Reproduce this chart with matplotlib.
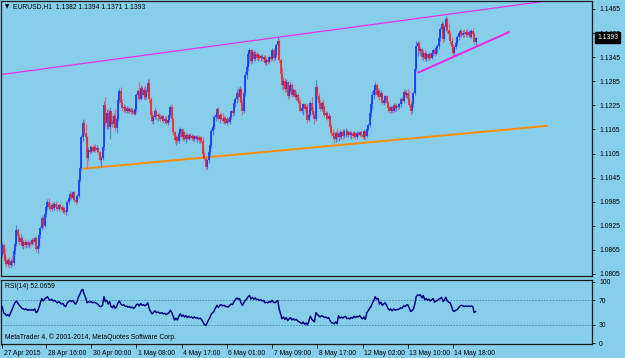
import numpy as np
import matplotlib
matplotlib.use("Agg")
import matplotlib.pyplot as plt
import matplotlib.transforms as mtransforms

# ── data: EURUSD H1 bars, prices in points (1.0850 -> 10850) ─────────────────
open_pts = [
    10850, 10878, 10855, 10838, 10830, 10840, 10828, 10838, 10832, 10862,
    10880, 10915, 10900, 10885, 10895, 10875, 10885, 10878, 10884, 10876,
    10882, 10880, 10890, 10885, 10895, 10866, 10875, 10902, 10920, 10945,
    10925, 10955, 10972, 10985, 10972, 10968, 10978, 10970, 10980, 10972,
    10966, 10976, 10972, 10964, 10970, 10960, 10962, 10985, 10995, 11005,
    10995, 11008, 10990, 10985, 11000, 11040, 11070, 11145, 11180, 11155,
    11145, 11095, 11115, 11110, 11120, 11112, 11122, 11115, 11118, 11108,
    11090, 11095, 11120, 11225, 11180, 11205, 11172, 11210, 11185, 11178,
    11198, 11168, 11192, 11238, 11260, 11232, 11218, 11222, 11212, 11218,
    11210, 11216, 11208, 11212, 11204, 11215, 11250, 11260, 11242, 11268,
    11250, 11262, 11245, 11258, 11280, 11240, 11200, 11186, 11195, 11212,
    11198, 11200, 11196, 11190, 11198, 11186, 11192, 11182, 11188, 11200, 11220,
    11190, 11158, 11138, 11145, 11135, 11155, 11165, 11145, 11158, 11140,
    11150, 11142, 11150, 11144, 11148, 11140, 11148, 11142, 11146, 11138,
    11144, 11135, 11105, 11092, 11072, 11088, 11108, 11125, 11160, 11170,
    11195, 11202, 11215, 11190, 11200, 11192, 11185, 11194, 11182, 11190,
    11184, 11196, 11210, 11205, 11230, 11240, 11255, 11245, 11265, 11232,
    11212, 11255, 11300, 11320, 11352, 11362, 11335, 11358, 11340, 11352,
    11342, 11350, 11342, 11348, 11340, 11345, 11330, 11338, 11332, 11345,
    11340, 11362, 11342, 11350, 11375, 11385, 11338, 11302, 11275, 11285,
    11265, 11284, 11248, 11260, 11275, 11252, 11262, 11245, 11250, 11236,
    11230, 11212, 11218, 11228, 11216, 11220, 11188, 11200, 11230, 11212,
    11202, 11190, 11270, 11248, 11232, 11215, 11230, 11220, 11200, 11205,
    11192, 11198, 11170, 11155, 11148, 11140, 11155, 11145, 11156, 11146,
    11158, 11148, 11160, 11162, 11152, 11158, 11150, 11156, 11148, 11155,
    11146, 11156, 11152, 11158, 11150, 11146, 11160, 11148, 11165, 11175,
    11205, 11228, 11252, 11262, 11275, 11252, 11260, 11245, 11255, 11232,
    11238, 11248, 11232, 11218, 11210, 11220, 11212, 11225, 11218, 11224, 11220,
    11228, 11240, 11236, 11258, 11252, 11256, 11242, 11226, 11210, 11228,
    11255, 11315, 11372, 11380, 11360, 11365, 11345, 11355, 11340, 11352,
    11342, 11352, 11344, 11355, 11362, 11352, 11368, 11372, 11392, 11415,
    11428, 11390, 11420, 11440, 11412, 11402, 11385, 11370, 11355, 11370,
    11380, 11395, 11404, 11410, 11400, 11406, 11402, 11408, 11400, 11408,
    11396, 11410, 11402, 11382,
]
high_pts = [
    10885, 10882, 10870, 10848, 10845, 10848, 10842, 10850, 10868, 10885,
    10927, 10920, 10908, 10905, 10900, 10890, 10892, 10888, 10890, 10886,
    10890, 10895, 10898, 10900, 10898, 10880, 10908, 10925, 10952, 10950,
    10960, 10978, 10992, 10993, 10982, 10982, 10985, 10984, 10986, 10980,
    10980, 10982, 10978, 10975, 10972, 10968, 10990, 11000, 11012, 11010,
    11012, 11012, 10998, 11005, 11045, 11075, 11150, 11190, 11188, 11178,
    11148, 11120, 11125, 11124, 11126, 11125, 11128, 11126, 11122, 11112,
    11100, 11125, 11235, 11245, 11215, 11215, 11220, 11212, 11200, 11205,
    11215, 11200, 11245, 11268, 11270, 11240, 11228, 11226, 11224, 11222,
    11222, 11220, 11218, 11216, 11220, 11255, 11265, 11282, 11275, 11272,
    11270, 11276, 11265, 11290, 11290, 11245, 11210, 11200, 11218, 11215,
    11205, 11206, 11204, 11202, 11200, 11198, 11198, 11192, 11205, 11225, 11228,
    11195, 11162, 11150, 11150, 11160, 11170, 11168, 11165, 11162, 11155,
    11156, 11155, 11155, 11154, 11152, 11152, 11152, 11150, 11150, 11148,
    11148, 11145, 11112, 11096, 11092, 11112, 11130, 11168, 11178, 11200,
    11208, 11220, 11222, 11205, 11206, 11205, 11198, 11198, 11195, 11195,
    11200, 11214, 11215, 11235, 11245, 11262, 11270, 11272, 11268, 11240,
    11260, 11310, 11330, 11360, 11368, 11366, 11365, 11364, 11360, 11358,
    11355, 11354, 11352, 11352, 11350, 11350, 11342, 11344, 11348, 11350,
    11368, 11368, 11355, 11380, 11395, 11390, 11342, 11318, 11295, 11292,
    11290, 11285, 11265, 11282, 11280, 11268, 11266, 11258, 11255, 11245,
    11238, 11222, 11232, 11232, 11225, 11230, 11205, 11236, 11245, 11220,
    11212, 11288, 11275, 11256, 11238, 11235, 11238, 11225, 11210, 11210,
    11205, 11200, 11178, 11166, 11160, 11160, 11168, 11160, 11166, 11162,
    11166, 11165, 11168, 11166, 11162, 11164, 11160, 11162, 11160, 11158,
    11160, 11160, 11162, 11160, 11158, 11165, 11164, 11170, 11180, 11210,
    11235, 11260, 11270, 11282, 11280, 11268, 11265, 11262, 11258, 11242,
    11252, 11250, 11236, 11226, 11224, 11224, 11230, 11230, 11228, 11230, 11232,
    11245, 11246, 11262, 11265, 11262, 11266, 11260, 11235, 11232, 11260,
    11320, 11385, 11385, 11386, 11370, 11368, 11362, 11362, 11358, 11356,
    11358, 11356, 11360, 11366, 11368, 11372, 11378, 11398, 11420, 11435,
    11432, 11425, 11448, 11445, 11430, 11410, 11395, 11378, 11375, 11385,
    11400, 11408, 11416, 11415, 11412, 11414, 11412, 11414, 11412, 11412,
    11416, 11418, 11408, 11394,
]
low_pts = [
    10845, 10848, 10830, 10822, 10825, 10820, 10822, 10826, 10828, 10855,
    10875, 10895, 10878, 10880, 10870, 10866, 10872, 10870, 10873, 10870,
    10875, 10876, 10880, 10878, 10860, 10858, 10870, 10895, 10915, 10920,
    10922, 10948, 10965, 10968, 10962, 10962, 10966, 10965, 10968, 10963,
    10962, 10968, 10960, 10958, 10955, 10952, 10960, 10980, 10990, 10992,
    10990, 10985, 10980, 10982, 10995, 11035, 11065, 11135, 11150, 11140,
    11070, 11090, 11105, 11106, 11108, 11108, 11110, 11108, 11105, 11085,
    11072, 11090, 11115, 11170, 11165, 11165, 11140, 11175, 11170, 11172,
    11160, 11155, 11185, 11230, 11225, 11212, 11208, 11206, 11205, 11206,
    11205, 11204, 11203, 11200, 11200, 11208, 11240, 11235, 11238, 11245,
    11240, 11238, 11240, 11250, 11232, 11195, 11180, 11178, 11190, 11192,
    11185, 11190, 11186, 11185, 11182, 11180, 11178, 11176, 11184, 11195, 11185,
    11150, 11130, 11126, 11130, 11130, 11145, 11140, 11138, 11135, 11132,
    11138, 11138, 11140, 11138, 11136, 11136, 11138, 11134, 11132, 11132,
    11130, 11095, 11088, 11064, 11066, 11082, 11100, 11118, 11150, 11165,
    11185, 11196, 11185, 11182, 11188, 11180, 11178, 11178, 11176, 11180,
    11178, 11190, 11198, 11200, 11222, 11232, 11235, 11240, 11225, 11202,
    11205, 11248, 11290, 11310, 11330, 11328, 11330, 11335, 11336, 11338,
    11336, 11338, 11336, 11336, 11334, 11325, 11326, 11328, 11330, 11336,
    11338, 11335, 11338, 11345, 11368, 11330, 11295, 11265, 11262, 11258,
    11258, 11240, 11244, 11255, 11245, 11248, 11240, 11238, 11232, 11226,
    11208, 11205, 11202, 11212, 11205, 11182, 11185, 11198, 11205, 11196,
    11178, 11185, 11240, 11226, 11210, 11212, 11215, 11195, 11192, 11188,
    11186, 11165, 11148, 11140, 11134, 11134, 11138, 11136, 11140, 11140,
    11142, 11144, 11146, 11148, 11146, 11145, 11142, 11144, 11145, 11140,
    11142, 11148, 11148, 11146, 11142, 11140, 11140, 11145, 11160, 11170,
    11195, 11215, 11240, 11250, 11245, 11245, 11238, 11240, 11228, 11226,
    11232, 11228, 11212, 11206, 11206, 11206, 11208, 11212, 11212, 11214, 11216,
    11222, 11230, 11232, 11245, 11246, 11236, 11220, 11202, 11205, 11222,
    11250, 11310, 11348, 11355, 11350, 11340, 11338, 11335, 11336, 11338,
    11338, 11340, 11340, 11348, 11348, 11350, 11356, 11365, 11385, 11405,
    11380, 11385, 11410, 11405, 11395, 11378, 11362, 11348, 11350, 11365,
    11375, 11388, 11398, 11396, 11394, 11396, 11398, 11396, 11395, 11392,
    11392, 11398, 11378, 11371,
]
close_pts = [
    10878, 10855, 10838, 10830, 10840, 10828, 10838, 10832, 10862, 10880,
    10915, 10900, 10885, 10895, 10875, 10885, 10878, 10884, 10876, 10882,
    10880, 10890, 10885, 10895, 10866, 10875, 10902, 10920, 10945, 10925,
    10955, 10972, 10985, 10972, 10968, 10978, 10970, 10980, 10972, 10966,
    10976, 10972, 10964, 10970, 10960, 10962, 10985, 10995, 11005, 10995,
    11008, 10990, 10985, 11000, 11040, 11070, 11145, 11180, 11155, 11145,
    11095, 11115, 11110, 11120, 11112, 11122, 11115, 11118, 11108, 11090,
    11095, 11120, 11225, 11180, 11205, 11172, 11210, 11185, 11178, 11198,
    11168, 11192, 11238, 11260, 11232, 11218, 11222, 11212, 11218, 11210,
    11216, 11208, 11212, 11204, 11215, 11250, 11260, 11242, 11268, 11250,
    11262, 11245, 11258, 11280, 11240, 11200, 11186, 11195, 11212, 11198,
    11200, 11196, 11190, 11198, 11186, 11192, 11182, 11188, 11200, 11220, 11190,
    11158, 11138, 11145, 11135, 11155, 11165, 11145, 11158, 11140, 11150,
    11142, 11150, 11144, 11148, 11140, 11148, 11142, 11146, 11138, 11144,
    11135, 11105, 11092, 11072, 11088, 11108, 11125, 11160, 11170, 11195,
    11202, 11215, 11190, 11200, 11192, 11185, 11194, 11182, 11190, 11184,
    11196, 11210, 11205, 11230, 11240, 11255, 11245, 11265, 11232, 11212,
    11255, 11300, 11320, 11352, 11362, 11335, 11358, 11340, 11352, 11342,
    11350, 11342, 11348, 11340, 11345, 11330, 11338, 11332, 11345, 11340,
    11362, 11342, 11350, 11375, 11385, 11338, 11302, 11275, 11285, 11265,
    11284, 11248, 11260, 11275, 11252, 11262, 11245, 11250, 11236, 11230,
    11212, 11218, 11228, 11216, 11220, 11188, 11200, 11230, 11212, 11202,
    11190, 11270, 11248, 11232, 11215, 11230, 11220, 11200, 11205, 11192,
    11198, 11170, 11155, 11148, 11140, 11155, 11145, 11156, 11146, 11158,
    11148, 11160, 11162, 11152, 11158, 11150, 11156, 11148, 11155, 11146,
    11156, 11152, 11158, 11150, 11146, 11160, 11148, 11165, 11175, 11205,
    11228, 11252, 11262, 11275, 11252, 11260, 11245, 11255, 11232, 11238,
    11248, 11232, 11218, 11210, 11220, 11212, 11225, 11218, 11224, 11220, 11228,
    11240, 11236, 11258, 11252, 11256, 11242, 11226, 11210, 11228, 11255,
    11315, 11372, 11380, 11360, 11365, 11345, 11355, 11340, 11352, 11342,
    11352, 11344, 11355, 11362, 11352, 11368, 11372, 11392, 11415, 11428,
    11390, 11420, 11440, 11412, 11402, 11385, 11370, 11355, 11370, 11380,
    11395, 11404, 11410, 11400, 11406, 11402, 11408, 11400, 11408, 11396,
    11410, 11402, 11382, 11393,
]
# RSI(14)
rsi_vals = [
    60, 50, 48, 45, 47, 44, 50, 55, 61, 66,
    69, 66, 62, 60, 57, 56, 55, 56, 54, 55,
    54, 55, 54, 56, 50, 52, 58, 66, 73, 69,
    72, 74, 76, 72, 70, 72, 69, 70, 68, 66,
    68, 66, 64, 65, 61, 60, 66, 68, 70, 68,
    70, 66, 64, 68, 76, 80, 86, 88, 80, 75,
    66, 68, 67, 68, 66, 67, 66, 65, 63, 60,
    60, 62, 76, 68, 70, 64, 68, 60, 58, 62,
    57, 60, 66, 69, 64, 62, 63, 60, 61, 59,
    60, 58, 59, 57, 59, 63, 64, 61, 65, 62,
    63, 61, 63, 66, 57, 52, 48, 50, 53, 50,
    51, 50, 49, 50, 48, 49, 47, 48, 50, 54, 50,
    44, 38, 41, 38, 44, 48, 44, 46, 43, 45,
    42, 44, 42, 43, 41, 43, 41, 42, 40, 41,
    39, 35, 31, 29, 33, 38, 42, 48, 50, 53,
    58, 62, 58, 62, 63, 61, 62, 60, 60, 59,
    62, 64, 63, 68, 71, 74, 72, 73, 66, 62,
    66, 70, 72, 76, 78, 72, 75, 72, 74, 71,
    72, 70, 71, 69, 70, 66, 67, 66, 68, 67,
    70, 67, 66, 68, 70, 56, 48, 40, 43, 39,
    42, 37, 40, 42, 38, 40, 38, 39, 37, 35,
    34, 32, 35, 31, 33, 30, 36, 44, 40, 37,
    35, 50, 47, 45, 43, 45, 44, 42, 43, 41,
    42, 37, 34, 33, 32, 35, 32, 45, 41, 43,
    41, 43, 44, 40, 41, 40, 42, 41, 44, 42,
    44, 43, 45, 42, 40, 43, 39, 50, 53, 57,
    60, 66, 70, 76, 72, 73, 64, 67, 62, 64,
    66, 62, 57, 54, 56, 53, 56, 54, 55, 55, 56,
    58, 57, 61, 60, 62, 63, 58, 52, 53, 56,
    64, 76, 79, 78, 79, 74, 78, 71, 73, 70,
    72, 69, 71, 73, 67, 69, 70, 72, 73, 75,
    68, 71, 75, 69, 67, 66, 60, 53, 52, 54,
    55, 58, 61, 62, 61, 60, 61, 60, 61, 60,
    61, 60, 50, 52,
]

date_idx = [0, 31, 63, 95, 127, 159, 191, 223, 255, 287, 319]
date_labels = ["27 Apr 2015", "28 Apr 16:00", "30 Apr 00:00", "1 May 08:00",
               "4 May 17:00", "6 May 01:00", "7 May 09:00", "8 May 17:00",
               "12 May 02:00", "13 May 10:00", "14 May 18:00"]
price_ticks = [1.0805, 1.0865, 1.0925, 1.0985, 1.1045, 1.1105,
               1.1165, 1.1225, 1.1285, 1.1345, 1.1405, 1.1465]
rsi_ticks = [0, 30, 70, 100]
rsi_levels = [30, 70]
last_price = 1.1393

# trendlines drawn on the chart: (bar, price) anchors
channel_top = [(0, 1.1302), (196, 1.1395)]     # ray, magenta
support_low = [(57, 1.1067), (386, 1.1174)]    # segment, orange
support_13may = [(294, 1.1306), (359, 1.1408)] # segment, magenta

# ── style ────────────────────────────────────────────────────────────────
BG = "#87CEEB"
UP, UP_WICK = "#1030ff", "#4f7fe6"
DN, DN_WICK = "#f02020", "#d0707e"
FRAME = "#1c1c1c"
FONT = ["Liberation Sans", "DejaVu Sans"]
FS = 4.9
plt.rcParams["font.family"] = FONT

o = np.array(open_pts) / 1e4
h = np.array(high_pts) / 1e4
l = np.array(low_pts) / 1e4
c = np.array(close_pts) / 1e4
idx = np.arange(len(o))
up = c >= o

W, H = 625, 358
fig = plt.figure(figsize=(W / 100, H / 100), dpi=100, facecolor=BG)
ax = fig.add_axes([1 / W, 82 / H, 591 / W, 275 / H], facecolor=BG)
rx = fig.add_axes([1 / W, 14 / H, 591 / W, 64 / H], facecolor=BG)

XL = (-0.85, 417.4)

# candles
ax.vlines(idx[up], l[up], h[up], color=UP_WICK, lw=0.85, zorder=3)
ax.vlines(idx[~up], l[~up], h[~up], color=DN_WICK, lw=0.85, zorder=3)
ax.vlines(idx[up], o[up], c[up], color=UP, lw=1.15, zorder=4)
ax.vlines(idx[~up], c[~up], o[~up], color=DN, lw=1.15, zorder=4)

# trendlines
ax.axline(channel_top[0], channel_top[1], color="#e830f0", lw=0.9, zorder=2)
ax.plot(*zip(*support_low), color="#ff8c00", lw=1.4, zorder=2,
        solid_capstyle="butt")
ax.plot(*zip(*support_13may), color="#f020e8", lw=1.4, zorder=5,
        solid_capstyle="butt")

ax.set_xlim(*XL)
ax.set_ylim(1.07999, 1.14849)
ax.set_xticks([])
ax.yaxis.tick_right()
ax.set_yticks(price_ticks)
ax.set_yticklabels([f"{p:.4f}" for p in price_ticks])
ax.tick_params(axis="y", length=2.5, width=0.6, pad=2.5, labelsize=FS,
               colors="black")
for s in ax.spines.values():
    s.set_color(FRAME)
    s.set_linewidth(0.9)

# current price tag (sits over the 1.1405 label, as in the terminal)
tr = mtransforms.blended_transform_factory(ax.transAxes, ax.transData)
ax.text(1.009, last_price, f"{last_price:.4f}", transform=tr, fontsize=FS,
        color="white", va="center", ha="left", zorder=10, clip_on=False,
        bbox=dict(boxstyle="square,pad=0.3", fc="black", ec="black"))

ax.text(4 / 591, 1 - 3 / 275, "\u25bc", transform=ax.transAxes,
        fontsize=4.0, va="top", ha="left", family=["DejaVu Sans"])
ax.text(12 / 591, 1 - 2.5 / 275, "EURUSD,H1  1.1382 1.1394 1.1371 1.1393",
        transform=ax.transAxes, fontsize=FS, va="top", ha="left")

# RSI window
rx.plot(idx, rsi_vals, color="#000080", lw=1.05, zorder=3)
for lv in rsi_levels:
    rx.axhline(lv, color="#3f8ea8", lw=0.7, ls=(0, (1.5, 1.5)), zorder=2)
rx.set_xlim(*XL)
rx.set_ylim(-1.1, 103.2)
rx.yaxis.tick_right()
rx.set_yticks(rsi_ticks)
rx.set_yticklabels([str(t) for t in rsi_ticks])
rx.tick_params(axis="y", length=2.5, width=0.6, pad=2.5, labelsize=FS,
               colors="black")
rx.set_xticks(date_idx)
rx.set_xticklabels(date_labels, ha="left")
rx.tick_params(axis="x", length=3, width=0.6, pad=1.5, labelsize=FS,
               colors="black")
shift = mtransforms.ScaledTranslation(1.5 / 100, 0, fig.dpi_scale_trans)
for lab in rx.get_xticklabels():
    lab.set_transform(lab.get_transform() + shift)
for s in rx.spines.values():
    s.set_color(FRAME)
    s.set_linewidth(0.9)

rx.text(4 / 591, 1 - 3 / 64, "RSI(14) 52.0659", transform=rx.transAxes,
        fontsize=FS, va="top", ha="left")
rx.text(4 / 591, 3 / 64, "MetaTrader 4, \u00a9 2001-2014, MetaQuotes Software Corp.",
        transform=rx.transAxes, fontsize=FS, va="bottom", ha="left")

fig.savefig("out.png", dpi=100, facecolor=BG)
